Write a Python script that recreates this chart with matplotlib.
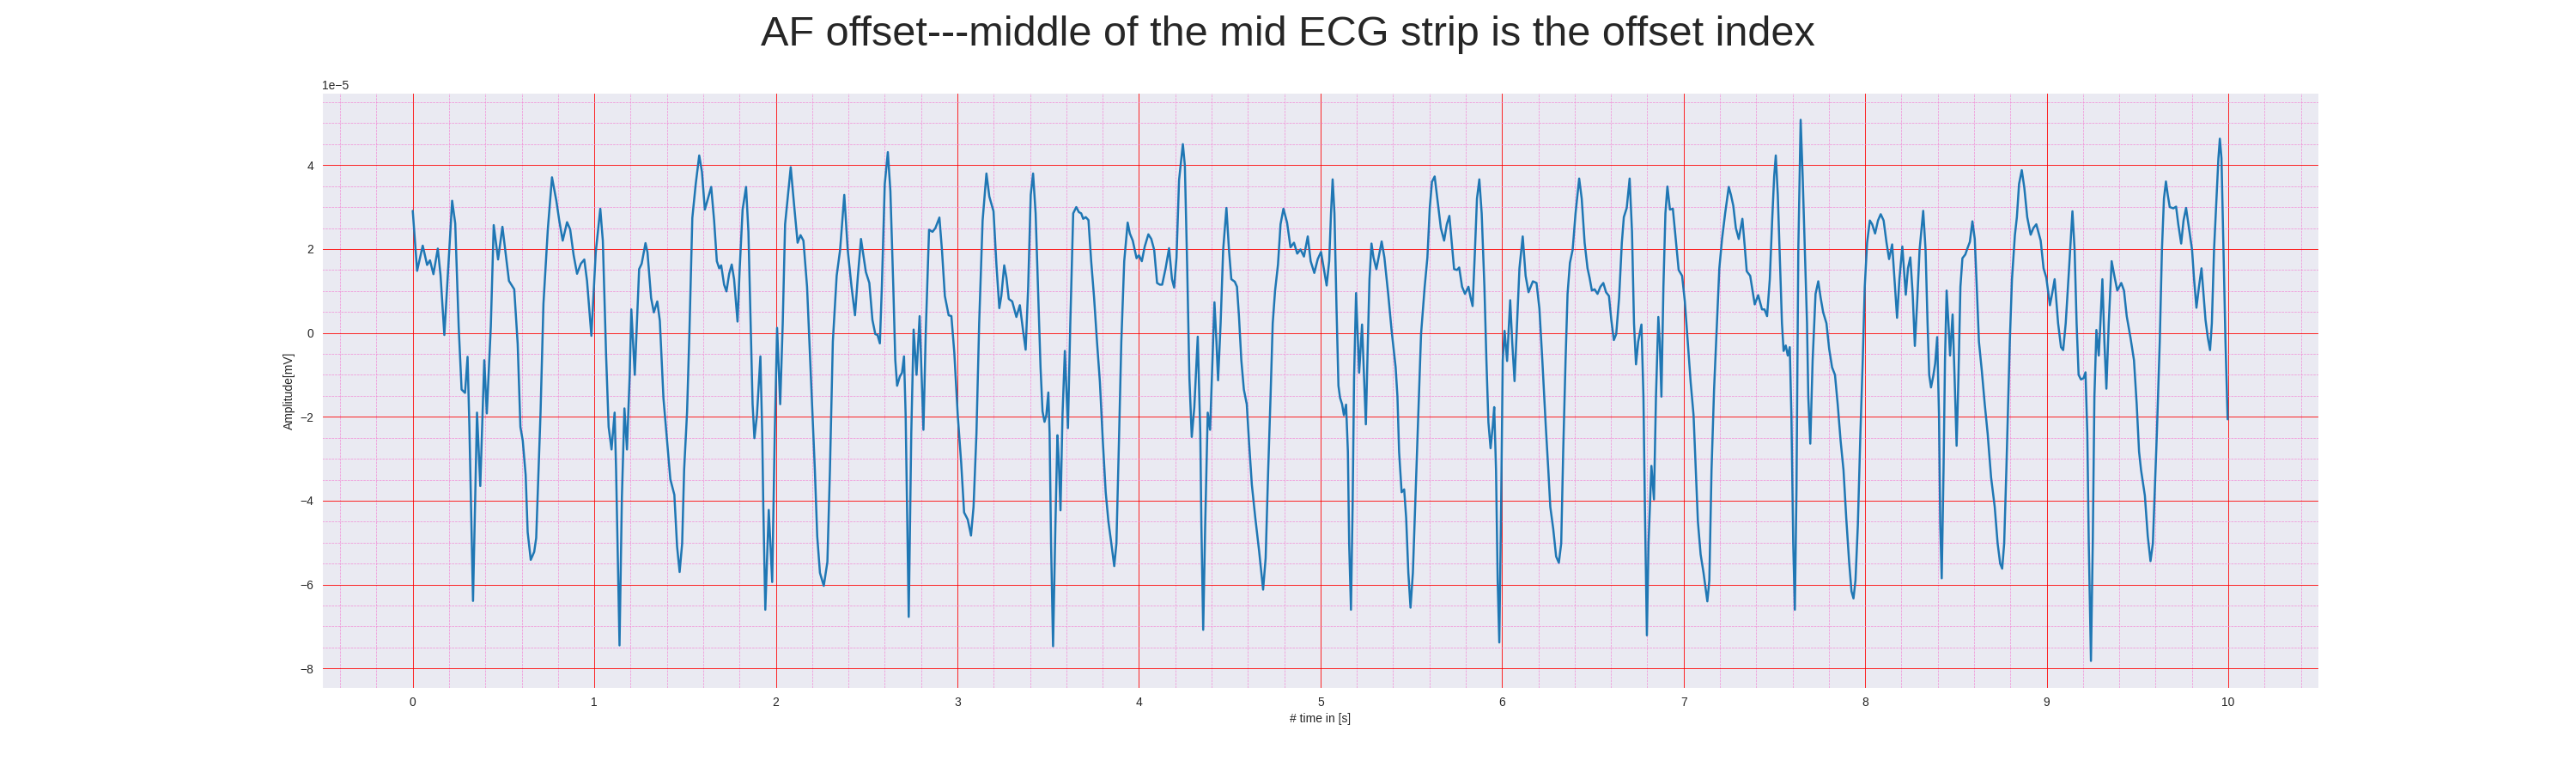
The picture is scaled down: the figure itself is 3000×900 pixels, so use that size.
# -*- coding: utf-8 -*-

import matplotlib
matplotlib.use("Agg")
import matplotlib.pyplot as plt
from matplotlib.ticker import MultipleLocator, AutoMinorLocator
import seaborn as sns

# ECG strip: time [s] and amplitude [x 1e-5 mV]
time_s = [
    0.000, 0.024, 0.055, 0.079, 0.095, 0.114, 0.138, 0.153, 0.174, 0.195,
    0.217, 0.234, 0.253, 0.269, 0.288, 0.302, 0.312, 0.332, 0.354, 0.372,
    0.394, 0.408, 0.430, 0.446, 0.470, 0.494, 0.530, 0.546, 0.559, 0.578,
    0.593, 0.606, 0.622, 0.633, 0.650, 0.669, 0.680, 0.693, 0.704, 0.720,
    0.744, 0.767, 0.791, 0.807, 0.826, 0.850, 0.867, 0.886, 0.905, 0.926,
    0.945, 0.960, 0.984, 1.008, 1.033, 1.047, 1.065, 1.079, 1.095, 1.112,
    1.120, 1.139, 1.152, 1.166, 1.180, 1.195, 1.204, 1.223, 1.247, 1.261,
    1.282, 1.293, 1.313, 1.328, 1.347, 1.361, 1.381, 1.419, 1.441, 1.456,
    1.470, 1.484, 1.495, 1.511, 1.524, 1.540, 1.559, 1.578, 1.593,
    1.609, 1.644, 1.660, 1.675, 1.688, 1.699, 1.715, 1.728, 1.743, 1.757,
    1.770, 1.789, 1.801, 1.817, 1.836, 1.849, 1.861, 1.872, 1.882, 1.896,
    1.915, 1.925, 1.931, 1.942, 1.961, 1.980, 1.994, 2.007, 2.024, 2.038,
    2.051, 2.082, 2.101, 2.120, 2.136, 2.152, 2.172, 2.196, 2.215, 2.228,
    2.243, 2.264, 2.284, 2.298, 2.314, 2.335, 2.354, 2.377, 2.396, 2.417,
    2.436, 2.452, 2.469, 2.496, 2.515,
    2.532, 2.548, 2.560, 2.573, 2.584, 2.600, 2.617, 2.631, 2.647, 2.658,
    2.668, 2.683, 2.695, 2.706, 2.715, 2.724, 2.732, 2.746, 2.759, 2.775,
    2.792, 2.813, 2.826, 2.844, 2.863, 2.879, 2.901, 2.915, 2.931, 2.952,
    2.967, 2.983, 3.002, 3.021, 3.037, 3.057, 3.075, 3.089, 3.105, 3.120,
    3.139, 3.160, 3.176, 3.188, 3.199, 3.215, 3.231, 3.242, 3.258, 3.270,
    3.283, 3.302, 3.325, 3.344, 3.362, 3.376, 3.390, 3.404, 3.417, 3.431,
    3.447,
    3.458, 3.469, 3.480, 3.490, 3.501, 3.508, 3.516, 3.527, 3.540, 3.551,
    3.559, 3.568, 3.579, 3.592, 3.609, 3.622, 3.638, 3.655, 3.669, 3.682,
    3.693, 3.707, 3.722, 3.737, 3.753, 3.769, 3.785, 3.801, 3.817, 3.832,
    3.848, 3.864, 3.876, 3.891, 3.903, 3.919, 3.938, 3.950, 3.966, 3.987,
    4.000, 4.016, 4.032, 4.052, 4.068, 4.084, 4.100, 4.115, 4.128, 4.147,
    4.166, 4.182, 4.194, 4.207, 4.221, 4.242, 4.253, 4.266, 4.278, 4.291,
    4.305, 4.324, 4.338, 4.344, 4.354, 4.365, 4.379, 4.392, 4.405, 4.416,
    4.427, 4.436,
    4.450, 4.464, 4.482, 4.496, 4.509, 4.528, 4.540, 4.551, 4.564, 4.578,
    4.594, 4.606, 4.622, 4.641, 4.662, 4.684, 4.698, 4.712, 4.725, 4.737,
    4.750, 4.766, 4.780, 4.796, 4.816, 4.835, 4.854, 4.872, 4.890, 4.909,
    4.930, 4.946, 4.966, 4.985, 5.003, 5.018, 5.034, 5.048, 5.058, 5.067,
    5.077, 5.088, 5.099, 5.108, 5.119, 5.129, 5.141, 5.151, 5.158, 5.168,
    5.177, 5.185, 5.196, 5.213, 5.229, 5.238, 5.250, 5.261, 5.270, 5.281,
    5.292, 5.308, 5.324, 5.337, 5.352,
    5.373, 5.392, 5.414, 5.424, 5.433, 5.447, 5.461, 5.472, 5.484, 5.496,
    5.509, 5.523, 5.539, 5.554, 5.574, 5.589, 5.602, 5.614, 5.629, 5.645,
    5.663, 5.681, 5.696, 5.710, 5.723, 5.736, 5.752, 5.764, 5.780, 5.796,
    5.815, 5.827, 5.838, 5.851, 5.862, 5.875, 5.888, 5.903, 5.914, 5.925,
    5.937, 5.949, 5.957, 5.967, 5.976, 5.985, 5.995, 6.004, 6.014, 6.028,
    6.045, 6.056, 6.069, 6.083, 6.096, 6.114, 6.130, 6.146, 6.170, 6.190,
    6.206, 6.222, 6.241,
    6.255, 6.266, 6.282, 6.298, 6.313, 6.326, 6.337, 6.350, 6.361, 6.374,
    6.389, 6.405, 6.425, 6.439, 6.455, 6.471, 6.482, 6.495, 6.510, 6.526,
    6.542, 6.558, 6.573, 6.589, 6.602, 6.616, 6.629, 6.645, 6.660, 6.671,
    6.687, 6.703, 6.716, 6.727, 6.738, 6.750, 6.768, 6.779, 6.787, 6.798,
    6.807, 6.823, 6.837, 6.848, 6.861, 6.869, 6.878, 6.889, 6.900, 6.911,
    6.925, 6.941, 6.955, 6.973, 6.992, 7.007, 7.023, 7.039, 7.055, 7.066,
    7.079, 7.094, 7.110, 7.131, 7.142, 7.154, 7.168, 7.184, 7.197, 7.212,
    7.229, 7.249, 7.261, 7.274, 7.288, 7.304, 7.324, 7.337, 7.348, 7.367,
    7.380, 7.392, 7.411, 7.432, 7.446, 7.460, 7.475, 7.488, 7.499, 7.508,
    7.519, 7.530, 7.542, 7.551, 7.563, 7.574, 7.585, 7.594, 7.604, 7.613,
    7.622, 7.632, 7.645, 7.656, 7.668, 7.680, 7.687, 7.698, 7.711, 7.727,
    7.742, 7.755, 7.769, 7.787, 7.802, 7.818, 7.834, 7.849, 7.865, 7.881,
    7.896, 7.912, 7.925, 7.936, 7.947, 7.960, 7.974, 7.987, 7.998, 8.011,
    8.026, 8.039, 8.055, 8.071, 8.086, 8.102, 8.118, 8.132, 8.149,
    8.162, 8.176, 8.189, 8.205, 8.224, 8.236, 8.249, 8.262, 8.274, 8.287,
    8.300, 8.320, 8.333, 8.344, 8.353, 8.363, 8.375, 8.386, 8.397, 8.407,
    8.414, 8.422, 8.432, 8.440, 8.449, 8.459, 8.468, 8.482, 8.493, 8.504,
    8.514, 8.525, 8.536, 8.552, 8.564, 8.577, 8.591, 8.604, 8.615, 8.627,
    8.643, 8.659, 8.675, 8.694, 8.714, 8.730, 8.744, 8.755, 8.766, 8.778,
    8.789, 8.797, 8.809, 8.825, 8.836, 8.848, 8.863, 8.877, 8.893, 8.912,
    8.927, 8.943, 8.967, 8.983, 8.998, 9.018, 9.030, 9.044,
    9.063, 9.079, 9.091, 9.105, 9.121, 9.142, 9.154, 9.165, 9.176, 9.189,
    9.203, 9.214, 9.224, 9.232, 9.244, 9.254, 9.263, 9.274, 9.287, 9.296,
    9.307, 9.318, 9.329, 9.342, 9.358, 9.373, 9.389, 9.411, 9.426, 9.441,
    9.462, 9.481, 9.496, 9.509, 9.520, 9.541, 9.557, 9.572, 9.585, 9.594,
    9.607, 9.623, 9.635, 9.646, 9.657, 9.667, 9.678, 9.698, 9.713, 9.725,
    9.741, 9.754, 9.768, 9.784, 9.801, 9.812, 9.825, 9.839, 9.853, 9.864,
    9.875, 9.888, 9.900, 9.910, 9.922, 9.938, 9.946, 9.954, 9.963, 9.974,
    9.985, 9.997,
]

amp_1e5 = [
    2.91, 1.48, 2.08, 1.62, 1.73, 1.40, 2.01, 1.38, -0.05, 1.52,
    3.15, 2.61, 0.15, -1.35, -1.43, -0.57, -2.24, -6.39, -1.90, -3.65,
    -0.65, -1.92, 0.15, 2.57, 1.75, 2.53, 1.24, 1.13, 1.04, -0.26,
    -2.24, -2.57, -3.39, -4.75, -5.41, -5.22, -4.89, -3.25, -1.89, 0.70,
    2.47, 3.71, 3.15, 2.68, 2.20, 2.64, 2.47, 1.86, 1.41, 1.65,
    1.75, 1.24, -0.07, 1.92, 2.96, 2.20, -0.53, -2.24, -2.78, -1.90,
    -3.25, -7.45, -3.93, -1.80, -2.78, -1.01, 0.56, -1.00, 1.52, 1.65,
    2.14, 1.92, 0.83, 0.49, 0.75, 0.29, -1.56, -3.49, -3.86, -5.09,
    -5.70, -5.02, -3.25, -1.89, 0.01, 2.74, 3.56, 4.23, 3.84,
    2.94, 3.48, 2.68, 1.71, 1.54, 1.61, 1.15, 0.99, 1.41, 1.63,
    1.28, 0.27, 1.54, 2.94, 3.48, 2.41, 0.23, -1.70, -2.51, -1.96,
    -0.56, -2.40, -4.15, -6.60, -4.22, -5.94, -2.40, 0.12, -1.70, 0.23,
    2.59, 3.95, 3.03, 2.15, 2.33, 2.20, 1.10, -1.35, -3.27, -4.85,
    -5.72, -6.03, -5.46, -3.27, -0.21, 1.36, 1.98, 3.29, 1.98, 1.10,
    0.42, 1.36, 2.24, 1.45, 1.19,
    0.31, -0.03, -0.05, -0.25, 1.10, 3.55, 4.31, 3.38, 1.10, -0.65,
    -1.26, -1.04, -0.95, -0.56, -1.96, -4.58, -6.77, -2.40, 0.08, -1.00,
    0.40, -2.31, 0.05, 2.46, 2.41, 2.50, 2.75, 1.98, 0.88, 0.42,
    0.40, -0.47, -1.96, -3.10, -4.28, -4.45, -4.83, -4.15, -2.40, 0.23,
    2.68, 3.80, 3.25, 3.07, 2.90, 1.63, 0.59, 0.88, 1.61, 1.32,
    0.81, 0.75, 0.38, 0.66, 0.05, -0.40, 1.10, 3.29, 3.80, 2.85,
    0.66,
    -0.82, -1.87, -2.12, -1.96, -1.42, -2.40, -5.02, -7.47, -4.58, -2.44,
    -3.10, -4.23, -1.96, -0.43, -2.27, 0.23, 2.85, 3.00, 2.88, 2.85,
    2.72, 2.76, 2.69, 1.71, 0.84, -0.21, -1.17, -2.57, -3.80, -4.50,
    -5.02, -5.56, -5.02, -2.40, -0.21, 1.71, 2.63, 2.37, 2.20, 1.78,
    1.85, 1.71, 2.06, 2.35, 2.24, 1.98, 1.19, 1.15, 1.15, 1.54,
    2.02, 1.28, 1.08, 1.80, 3.64, 4.50, 3.99, 1.54, -1.08, -2.48,
    -1.78, -0.09, -2.40, -4.58, -7.08, -4.58, -1.90, -2.31, -0.65, 0.73,
    -0.21, -1.13,
    0.23, 1.98, 2.98, 1.98, 1.28, 1.22, 1.10, 0.40, -0.65, -1.35,
    -1.70, -2.57, -3.62, -4.41, -5.20, -6.12, -5.37, -3.27, -1.52, 0.23,
    1.01, 1.63, 2.59, 2.96, 2.63, 2.04, 2.15, 1.89, 1.99, 1.82,
    2.30, 1.71, 1.43, 1.76, 1.93, 1.54, 1.13, 1.71, 2.85, 3.66,
    2.85, 0.66, -1.26, -1.55, -1.70, -1.96, -1.71, -2.83, -5.02, -6.60,
    -4.15, -1.08, 0.95, -0.95, 0.20, -0.82, -2.18, -0.21, 1.28, 2.13,
    1.80, 1.52, 1.89, 2.18, 1.80,
    0.93, 0.05, -0.82, -1.52, -2.83, -3.80, -3.73, -4.41, -5.72, -6.55,
    -5.72, -3.97, -1.96, -0.03, 1.10, 1.80, 2.98, 3.60, 3.73, 3.16,
    2.50, 2.20, 2.59, 2.79, 2.15, 1.52, 1.50, 1.56, 1.10, 0.93,
    1.10, 0.84, 0.64, 1.98, 3.20, 3.66, 2.85, 1.10, -0.65, -2.13,
    -2.75, -2.22, -1.77, -3.27, -5.90, -7.38, -4.15, -0.65, 0.05, -0.67,
    0.78, -0.21, -1.15, 0.23, 1.54, 2.30, 1.36, 0.97, 1.23, 1.19,
    0.58, -0.65, -2.22,
    -3.27, -4.15, -4.67, -5.33, -5.48, -5.02, -2.83, -0.65, 0.93, 1.67,
    1.98, 2.85, 3.68, 3.20, 2.15, 1.54, 1.32, 1.01, 1.04, 0.93,
    1.10, 1.19, 0.97, 0.88, 0.31, -0.17, -0.03, 0.84, 2.15, 2.76,
    2.98, 3.68, 2.41, 0.23, -0.75, -0.21, 0.20, -1.52, -4.15, -7.21,
    -5.02, -3.17, -3.97, -1.52, 0.38, -0.21, -1.52, 1.10, 2.85, 3.49,
    2.94, 2.96, 2.33, 1.50, 1.36, 0.75, -0.21, -1.17, -1.96, -3.10,
    -4.50, -5.28, -5.72, -6.40, -5.90, -3.27, -1.35, 0.23, 1.54, 2.24,
    2.85, 3.48, 3.29, 3.03, 2.50, 2.24, 2.72, 2.06, 1.47, 1.36,
    1.01, 0.68, 0.90, 0.56, 0.56, 0.40, 1.28, 2.68, 3.73, 4.23,
    3.29, 1.80, 0.23, -0.43, -0.30, -0.54, -0.34, -1.96, -5.02, -6.60,
    -3.71, 1.98, 5.08, 3.73, 1.98, 0.23, -1.52, -2.64, -0.65, 0.93,
    1.23, 0.84, 0.49, 0.23, -0.38, -0.82, -1.00, -1.70, -2.57, -3.27,
    -4.41, -5.46, -6.16, -6.33, -5.90, -4.58, -2.40, -0.65, 1.10, 2.15,
    2.68, 2.59, 2.37, 2.68, 2.83, 2.68, 2.15, 1.76, 2.11,
    1.28, 0.36, 1.28, 2.06, 0.91, 1.54, 1.80, 0.93, -0.31, 0.75,
    1.98, 2.91, 1.98, 0.23, -1.00, -1.30, -1.04, -0.73, -0.10, -1.96,
    -4.58, -5.85, -3.27, -0.65, 1.01, 0.23, -0.54, 0.44, -1.08, -2.69,
    -1.08, 1.10, 1.78, 1.87, 2.02, 2.17, 2.66, 2.24, 1.10, -0.21,
    -0.91, -1.70, -2.40, -3.45, -4.15, -5.02, -5.50, -5.62, -5.02, -3.27,
    -1.52, -0.21, 1.28, 2.33, 2.76, 3.55, 3.88, 3.46, 2.76, 2.34,
    2.50, 2.59, 2.20, 1.54, 1.32, 0.66, 0.93, 1.28,
    0.23, -0.34, -0.41, 0.23, 1.36, 2.90, 1.98, 0.23, -1.00, -1.11,
    -1.08, -0.94, -2.40, -5.02, -7.82, -5.02, -1.52, 0.07, -0.54, 0.23,
    1.28, -0.21, -1.33, 0.23, 1.71, 1.36, 1.01, 1.19, 1.01, 0.40,
    -0.12, -0.65, -1.70, -2.83, -3.27, -3.88, -4.85, -5.44, -5.02, -3.97,
    -2.40, -0.21, 1.98, 3.20, 3.61, 3.29, 3.00, 2.97, 3.01, 2.59,
    2.13, 2.68, 2.98, 2.50, 1.98, 1.28, 0.60, 1.10, 1.54, 0.93,
    0.31, -0.12, -0.41, 0.23, 1.98, 3.46, 4.16, 4.63, 4.16, 1.98,
    -0.21, -2.06,
]

TITLE = "AF offset---middle of the mid ECG strip is the offset index"


def main():
    sns.set_style("darkgrid")
    plt.rcParams["font.family"] = ["Liberation Sans", "DejaVu Sans"]

    fig, ax = plt.subplots(figsize=(30, 9), dpi=100)

    amplitude = [v * 1e-5 for v in amp_1e5]
    ax.plot(time_s, amplitude, color="#1f77b4", linewidth=1.8)

    # ECG paper look: 1 s major, 0.2 s minor
    ax.xaxis.set_major_locator(MultipleLocator(1))
    ax.xaxis.set_minor_locator(AutoMinorLocator(5))
    ax.yaxis.set_minor_locator(AutoMinorLocator(4))
    ax.grid(which="major", linestyle="-", linewidth=0.6, color="red")
    ax.grid(which="minor", linestyle="--", linewidth=0.5, color="#f28ad6")

    ax.set_xlabel("# time in [s]")
    ax.set_ylabel("Amplitude[mV]")
    fig.suptitle(TITLE, fontsize=35)

    fig.savefig("out.png", dpi=100)


if __name__ == "__main__":
    main()
